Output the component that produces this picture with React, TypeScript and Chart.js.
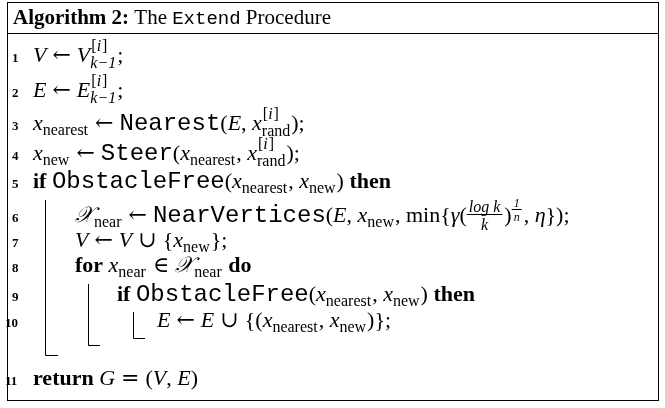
import React, { useEffect, useRef } from 'react';
import { Chart, registerables } from 'chart.js';

Chart.register(...registerables);

// segment kinds: i italic, r roman, m mono, b bold, op spaced operator, sub subscript, ss sup|sub, frac num|den, sfrac small sup fraction
type Seg = [string, string];

const titleSegs: Seg[] = [['b', 'Algorithm 2:'], ['r', ' The '], ['m', 'Extend'], ['r', ' Procedure']];

const xNearest: Seg[] = [['i', 'x'], ['sub', 'nearest']];
const xNew: Seg[] = [['i', 'x'], ['sub', 'new']];

const lineNumbers = ['1', '2', '3', '4', '5', '6', '7', '8', '9', '10', '11'];
const lineIndents = [33, 33, 33, 33, 33, 75, 75, 75, 117, 157, 33];
const lineBaselines = [62, 97, 130, 160, 188, 222, 247, 272, 301, 327, 385];
const lineSegs: Seg[][] = [
  [['i', 'V'], ['op', '←'], ['i', 'V'], ['ss', '[i]|k−1'], ['r', ';']],
  [['i', 'E'], ['op', '←'], ['i', 'E'], ['ss', '[i]|k−1'], ['r', ';']],
  [...xNearest, ['op', '←'], ['m', 'Nearest'], ['r', '('], ['i', 'E'], ['r', ', '], ['i', 'x'], ['ss', '[i]|rand'], ['r', ');']],
  [...xNew, ['op', '←'], ['m', 'Steer'], ['r', '('], ...xNearest, ['r', ', '], ['i', 'x'], ['ss', '[i]|rand'], ['r', ');']],
  [['b', 'if '], ['m', 'ObstacleFree'], ['r', '('], ...xNearest, ['r', ', '], ...xNew, ['r', ') '], ['b', 'then']],
  [['i', '𝒳'], ['sub', 'near'], ['op', '←'], ['m', 'NearVertices'], ['r', '('], ['i', 'E'], ['r', ', '], ...xNew, ['r', ', min{'], ['i', 'γ'], ['r', '('], ['frac', 'log k|k'], ['r', ')'], ['sfrac', '1|n'], ['r', ', '], ['i', 'η'], ['r', '});']],
  [['i', 'V'], ['op', '←'], ['i', 'V'], ['op', '∪'], ['r', '{'], ...xNew, ['r', '};']],
  [['b', 'for '], ['i', 'x'], ['sub', 'near'], ['op', '∈'], ['i', '𝒳'], ['sub', 'near'], ['b', ' do']],
  [['b', 'if '], ['m', 'ObstacleFree'], ['r', '('], ...xNearest, ['r', ', '], ...xNew, ['r', ') '], ['b', 'then']],
  [['i', 'E'], ['op', '←'], ['i', 'E'], ['op', '∪'], ['r', '{('], ...xNearest, ['r', ', '], ...xNew, ['r', ')};']],
  [['b', 'return '], ['i', 'G'], ['op', '='], ['r', '('], ['i', 'V'], ['r', ', '], ['i', 'E'], ['r', ')']],
];

const SERIF = '"Liberation Serif", "DejaVu Serif", serif';
const MONO = '"Liberation Mono", "DejaVu Sans Mono", monospace';

const fontFor = (k: string, size: number) => {
  if (k === 'i') return `italic ${size}px ${SERIF}`;
  if (k === 'b') return `bold ${size}px ${SERIF}`;
  if (k === 'm') return `${size + 2}px ${MONO}`;
  return `${size}px ${SERIF}`;
};

const drawSegs = (ctx: CanvasRenderingContext2D, segs: Seg[], x: number, y: number, size: number, mono?: number) => {
  const small = Math.round(size * 0.72);
  for (const [k, t] of segs) {
    if (k === 'sub') {
      ctx.font = `${small}px ${SERIF}`;
      ctx.fillText(t, x, y + 5);
      x += ctx.measureText(t).width + 1;
    } else if (k === 'op') {
      ctx.font = `${size}px "DejaVu Serif", serif`;
      x += 6;
      ctx.fillText(t, x, y);
      x += ctx.measureText(t).width + 6;
    } else if (k === 'ss') {
      const [sup, sub] = t.split('|');
      ctx.font = `${small}px ${SERIF}`;
      const parts = sup.split('i');
      let sx = x + 1;
      ctx.fillText(parts[0], sx, y - 11);
      sx += ctx.measureText(parts[0]).width;
      ctx.font = `italic ${small}px ${SERIF}`;
      ctx.fillText('i', sx, y - 11);
      sx += ctx.measureText('i').width + 1;
      ctx.font = `${small}px ${SERIF}`;
      ctx.fillText(parts[1], sx, y - 11);
      sx += ctx.measureText(parts[1]).width;
      ctx.font = `${sub === 'rand' ? '' : 'italic '}${small}px ${SERIF}`;
      ctx.fillText(sub, x, y + 6);
      x = Math.max(sx, x + ctx.measureText(sub).width) + 1;
    } else if (k === 'frac' || k === 'sfrac') {
      const [n, d] = t.split('|');
      const fs = k === 'frac' ? small : Math.round(size * 0.55);
      const mid = k === 'frac' ? y - 7 : y - 12;
      ctx.font = `italic ${fs}px ${SERIF}`;
      const w = Math.max(ctx.measureText(n).width, ctx.measureText(d).width) + 4;
      ctx.fillText(n, x + (w - ctx.measureText(n).width) / 2, mid - 3);
      ctx.fillText(d, x + (w - ctx.measureText(d).width) / 2, mid + fs - 1);
      ctx.fillRect(x, mid - 1, w, 1);
      x += w + 2;
    } else {
      ctx.font = k === 'm' && mono ? `${mono}px ${MONO}` : fontFor(k, size);
      ctx.fillText(t, x, y);
      x += ctx.measureText(t).width;
    }
  }
  return x;
};

const algoPlugin = {
  id: 'algo',
  afterDraw(chart: Chart) {
    const ctx = chart.ctx;
    ctx.save();
    ctx.fillStyle = '#000';
    ctx.strokeStyle = '#000';
    ctx.lineWidth = 1;
    ctx.textBaseline = 'alphabetic';
    ctx.strokeRect(7.5, 2.5, 651, 398);
    ctx.beginPath();
    ctx.moveTo(7, 33.5);
    ctx.lineTo(659, 33.5);
    ctx.stroke();
    drawSegs(ctx, titleSegs, 13, 24, 21, 19);
    lineSegs.forEach((segs, i) => {
      ctx.font = `bold 13px ${SERIF}`;
      const num = lineNumbers[i];
      ctx.fillText(num, num.length > 1 ? 5 : 12, lineBaselines[i]);
      drawSegs(ctx, segs, lineIndents[i], lineBaselines[i], 22, 24);
    });
    const rule = (x: number, y0: number, y1: number, x1: number) => {
      ctx.beginPath();
      ctx.moveTo(x + 0.5, y0);
      ctx.lineTo(x + 0.5, y1 + 0.5);
      ctx.lineTo(x1, y1 + 0.5);
      ctx.stroke();
    };
    rule(45, 200, 355, 58);
    rule(88, 284, 345, 100);
    rule(133, 312, 338, 145);
    ctx.restore();
  },
};

export default function App() {
  const ref = useRef<HTMLCanvasElement>(null);
  useEffect(() => {
    document.body.style.margin = '0';
    const chart = new Chart(ref.current!, {
      type: 'scatter',
      data: { datasets: [] },
      options: {
        animation: false,
        responsive: false,
        plugins: { legend: { display: false }, tooltip: { enabled: false } },
        scales: { x: { display: false }, y: { display: false } },
      },
      plugins: [algoPlugin],
    });
    return () => chart.destroy();
  }, []);
  return <canvas ref={ref} width={665} height={408} style={{ background: '#fff' }} />;
}
